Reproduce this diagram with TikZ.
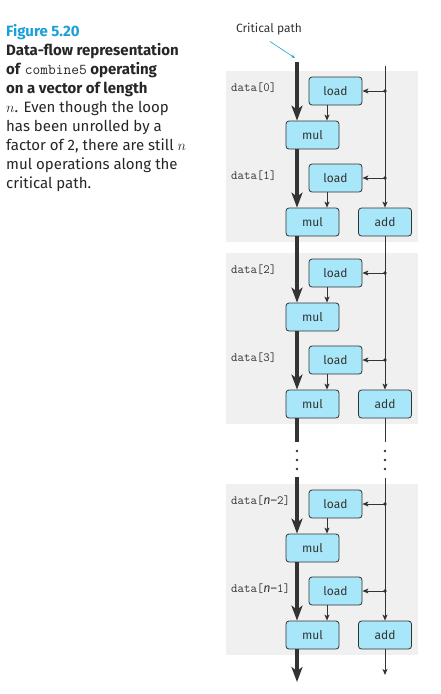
\documentclass[tikz,border=0pt]{standalone}
\usepackage{fontspec}
\setmainfont{Fira Sans}
\usetikzlibrary{arrows.meta}

\definecolor{figcyan}{HTML}{1AA0D8}
\definecolor{boxfill}{HTML}{A8E7F9}
\definecolor{lineg}{HTML}{333333}
\definecolor{panelg}{HTML}{F0F0F0}

\newcommand{\nlab}[1]{{\rmfamily\itshape n}{\rmfamily\upshape –}#1}

\tikzset{
  op/.style={draw=lineg, fill=boxfill, rounded corners=3pt, line width=0.8pt,
    minimum width=53pt, minimum height=28pt, inner sep=0pt,
    font=\fontsize{12}{14}\selectfont, text=lineg},
  datalab/.style={anchor=west, inner sep=0pt, text=lineg,
    font=\ttfamily\fontsize{12.5}{14}\selectfont},
  critline/.style={draw=lineg, line width=3.2pt},
  crit/.style={critline, -{Stealth[length=15pt,width=11pt,inset=4pt]}},
  flow/.style={draw=lineg, line width=0.9pt, -{Stealth[length=6pt,width=5pt,inset=1.5pt]}},
  tapdot/.style={fill=lineg},
}

\begin{document}
\begin{tikzpicture}[x=1pt,y=-1pt]
    \useasboundingbox (0,0) rectangle (440,694);

    % Caption
    \node (caption) [anchor=north west, align=left, inner sep=0pt,
      font=\fontsize{15}{19}\selectfont, text=black!85] at (6,24)
      {\textcolor{figcyan}{\textbf{Figure 5.20}}\\
       \textbf{Data-flow representation}\\
       \textbf{of \texttt{\mdseries combine5} operating}\\
       \textbf{on a vector of length}\\
       $n$. Even though the loop\\
       has been unrolled by a\\
       factor of 2, there are still $n$\\
       mul operations along the\\
       critical path.};

    % Critical path label
    \node (cplabel) [font=\fontsize{12}{14}\selectfont, text=lineg] at (269,29) {Critical path};
    \coordinate (cparrow) at (295,58);
    \draw[figcyan, line width=0.6pt, -{Stealth[length=4pt,width=3pt]}]
      ([xshift=1pt,yshift=-3pt]cplabel.south) -- (cparrow);

    % Panels: one per pair of iterations
    \foreach \p/\b/\da/\db in {1/91/0/1, 2/273/2/3, 3/504/{\nlab{2}}/{\nlab{1}}} {
      \fill[panelg] (226,\b-20) rectangle (418,\b+151);
      \node[op] (load\p a) at (335.5,\b) {load};
      \node[op] (mul\p a) at (312.5,\b+44) {mul};
      \node[op] (load\p b) at (335.5,\b+87) {load};
      \node[op] (mul\p b) at (312.5,\b+131) {mul};
      \node[op] (add\p) at (385,\b+131) {add};
      \node[datalab] (data\p a) at (231,\b-3) {data[\da]};
      \node[datalab] (data\p b) at (231,\b+85) {data[\db]};
      % Pointer taps
      \coordinate (tap\p a) at (385,\b);
      \coordinate (tap\p b) at (385,\b+87);
      \fill[tapdot] (tap\p a) circle (1.8pt);
      \fill[tapdot] (tap\p b) circle (1.8pt);
      \draw[flow] (tap\p a) -- (load\p a.east);
      \draw[flow] (tap\p b) -- (load\p b.east);
      % Loaded values into the multiplies
      \draw[flow] ([xshift=-8.5pt]load\p a.south) -- ([xshift=-8.5pt]load\p a.south |- mul\p a.north);
      \draw[flow] ([xshift=-8.5pt]load\p b.south) -- ([xshift=-8.5pt]load\p b.south |- mul\p b.north);
    }

    % Critical path through the multiplies
    \coordinate (cstart) at (297,62);
    \coordinate (cbreak) at (297,442);
    \coordinate (cresume) at (297,477);
    \coordinate (cend) at (297,682);
    \draw[crit] (cstart) -- (mul1a.north -| cstart);
    \draw[crit] (mul1a.south -| cstart) -- (mul1b.north -| cstart);
    \draw[crit] (mul1b.south -| cstart) -- (mul2a.north -| cstart);
    \draw[crit] (mul2a.south -| cstart) -- (mul2b.north -| cstart);
    \draw[critline] (mul2b.south -| cstart) -- (cbreak);
    \draw[crit] (cresume) -- (mul3a.north -| cstart);
    \draw[crit] (mul3a.south -| cstart) -- (mul3b.north -| cstart);
    \draw[crit] (mul3b.south -| cstart) -- (cend);

    % Pointer updates through the adds
    \coordinate (rstart) at (385,66);
    \coordinate (rbreak) at (385,442);
    \coordinate (rresume) at (385,478);
    \coordinate (rend) at (385,675);
    \draw[flow] (rstart) -- (add1.north);
    \draw[flow] (add1.south) -- (add2.north);
    \draw[flow, -] (add2.south) -- (rbreak);
    \draw[flow] (rresume) -- (add3.north);
    \draw[flow] (add3.south) -- (rend);

    % Elided iterations
    \foreach \y in {451,460,469} {
      \fill[lineg] (297,\y) circle (1.4pt);
      \fill[lineg] (385,\y) circle (1.4pt);
    }
\end{tikzpicture}
\end{document}
